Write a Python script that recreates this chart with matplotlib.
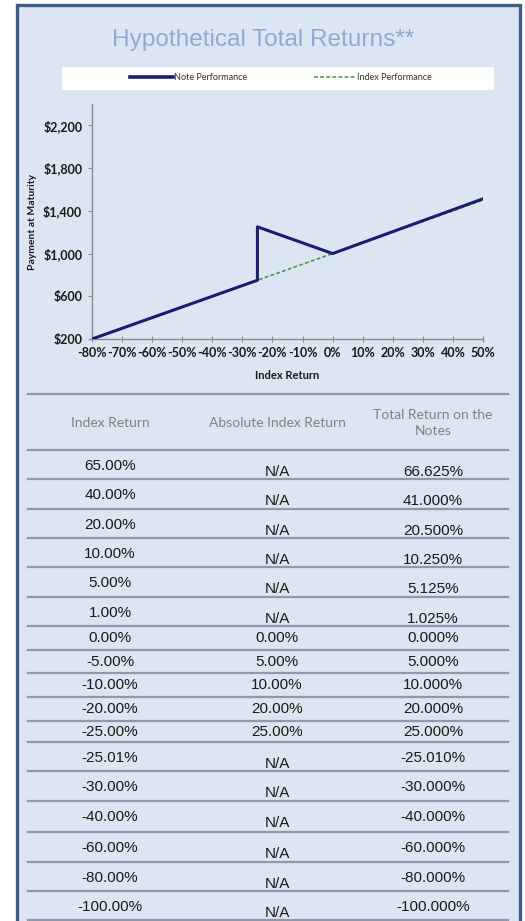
import matplotlib
matplotlib.use("Agg")
import matplotlib.pyplot as plt
from matplotlib.patches import Rectangle
from matplotlib.ticker import FuncFormatter

# chart data
index_x = [-80, -25, 0, 50]
index_y = [200, 750, 1000, 1500]
note_x = [-80, -25, -25, 0, 50]
note_y = [200, 750, 1250, 1000, 1512.5]
x_ticks = list(range(-80, 60, 10))
y_ticks = [200, 600, 1000, 1400, 1800, 2200]

# table data
headers = ["Index Return", "Absolute Index Return", "Total Return on the\nNotes"]
index_return = ["65.00%", "40.00%", "20.00%", "10.00%", "5.00%", "1.00%", "0.00%",
                "-5.00%", "-10.00%", "-20.00%", "-25.00%", "-25.01%", "-30.00%",
                "-40.00%", "-60.00%", "-80.00%", "-100.00%"]
abs_return = ["N/A", "N/A", "N/A", "N/A", "N/A", "N/A", "0.00%", "5.00%", "10.00%",
              "20.00%", "25.00%", "N/A", "N/A", "N/A", "N/A", "N/A", "N/A"]
note_return = ["66.625%", "41.000%", "20.500%", "10.250%", "5.125%", "1.025%", "0.000%",
               "5.000%", "10.000%", "20.000%", "25.000%", "-25.010%", "-30.000%",
               "-40.000%", "-60.000%", "-80.000%", "-100.000%"]

W, H = 525, 921
BG = "#dce6f2"
NAVY = "#1c1c72"
GREEN = "#3a9a3a"
LINE = "#8e9aab"

fig = plt.figure(figsize=(W / 100, H / 100), dpi=100)
fig.patch.set_facecolor("white")

# overlay in pixel coords
ov = fig.add_axes([0, 0, 1, 1])
ov.set_xlim(0, W)
ov.set_ylim(H, 0)
ov.axis("off")
ov.add_patch(Rectangle((17, 5.5), 503, 930, facecolor=BG, edgecolor="#3d5c88", linewidth=2.4))

ov.text(263, 40, "Hypothetical Total Returns**", ha="center", va="center",
        fontsize=17.6, color="#8eabd3", family="Liberation Sans")
ov.add_patch(Rectangle((62, 67), 432, 23, facecolor="white", edgecolor="none"))

# chart
ax = fig.add_axes([92 / W, (H - 339) / H, (483 - 92) / W, (339 - 104) / H])
ax.patch.set_alpha(0)
ax.plot(index_x, index_y, color=GREEN, linestyle=(0, (2.5, 1.5)), linewidth=1.1,
        label="Index Performance", zorder=2)
ax.plot(note_x, note_y, color=NAVY, linewidth=2.2, label="Note Performance", zorder=3)
ax.set_xlim(-80, 50)
ax.set_ylim(200, 2400)
ax.set_xticks(x_ticks)
ax.set_yticks(y_ticks)
ax.xaxis.set_major_formatter(FuncFormatter(lambda v, p: "%d%%" % v))
ax.yaxis.set_major_formatter(FuncFormatter(lambda v, p: "${:,.0f}".format(v)))
for s in ["top", "right"]:
    ax.spines[s].set_visible(False)
for s in ["left", "bottom"]:
    ax.spines[s].set_color("#8a8a8a")
    ax.spines[s].set_linewidth(1.0)
ax.tick_params(axis="x", direction="inout", length=4, color="#8a8a8a", pad=4,
               labelsize=9, labelcolor="#1a1a1a")
ax.tick_params(axis="y", direction="out", length=3, color="#8a8a8a", pad=4,
               labelsize=9, labelcolor="#1a1a1a")
for lab in ax.get_xticklabels() + ax.get_yticklabels():
    lab.set_family("Lato")
    lab.set_fontweight("bold")
ax.set_xlabel("Index Return", family="Lato", fontweight="bold", fontsize=8,
              color="#1a1a1a", labelpad=8)
ax.set_ylabel("Payment at Maturity", family="Lato", fontweight="bold", fontsize=7.5,
              color="#1a1a1a", labelpad=4)

h, l = ax.get_legend_handles_labels()
leg = fig.legend(h[::-1], l[::-1], loc="center", bbox_to_anchor=(281 / W, 1 - 78 / H),
                 ncol=2, frameon=False, handlelength=4.7, handletextpad=0.1,
                 columnspacing=7.4, prop={"family": "Lato", "size": 6.5})
for t in leg.get_texts():
    t.set_color("#333333")
leg.get_lines()[0].set_linewidth(2.6)

# table
rows = [450, 479, 509, 538, 567, 597, 626, 650, 673, 697, 721, 742, 771, 801, 832, 862, 891, 920]
col_x = [110, 277, 433]
ov.plot([28, 508], [394, 394], color=LINE, linewidth=1.6)
for r in rows:
    ov.plot([28, 508], [r, r], color=LINE, linewidth=1.6)

for i, hd in enumerate(headers):
    ov.text(col_x[i], 423, hd, ha="center", va="center", fontsize=10, color="#808080",
            family="Lato", linespacing=1.4)

for i in range(len(index_return)):
    top, bot = rows[i], rows[i + 1]
    hgt = bot - top
    if hgt > 26:
        y1 = top + 16
        y2 = top + 22
        y3 = y2 if i < 6 else y1
    else:
        y1 = y2 = y3 = (top + bot) / 2
    kw = dict(ha="center", va="center", fontsize=11, color="#1a1a1a", family="Liberation Sans")
    ov.text(col_x[0], y1, index_return[i], **kw)
    ov.text(col_x[1], y2, abs_return[i], **kw)
    ov.text(col_x[2], y3, note_return[i], **kw)

fig.savefig("out.png", dpi=100, facecolor="white")
